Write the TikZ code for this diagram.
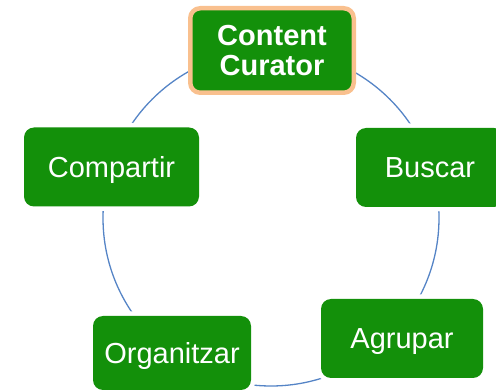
\documentclass[tikz,border=0pt]{standalone}
\usepackage{fontspec}
\setmainfont{Liberation Sans}
\definecolor{leaf}{HTML}{13900A}
\definecolor{peach}{HTML}{F9C08E}
\definecolor{ringblue}{HTML}{5584C6}

\begin{document}
\begin{tikzpicture}[x=1pt, y=-1pt,
  every node/.style={font=\fontsize{29}{30}\selectfont},
  stage/.style={rectangle, rounded corners=10pt, fill=leaf, text=white, inner sep=0pt},
  halo/.style={preaction={draw=white, line width=9pt}},
  plain/.style={stage, halo, text height=21pt, text depth=0pt},
  ring/.style={draw=ringblue, line width=1.3pt},
]

% page frame
\clip (0,0) rectangle (496,390);

% cycle ring behind the steps
\coordinate (hub) at (271,218);
\draw[ring] (hub) circle[radius=168];

% --- top: the curator ---
\node[stage, draw=peach, line width=4.5pt, minimum width=163.5pt, minimum height=84.5pt,
  align=center, font=\fontsize{29}{30}\selectfont\bfseries] (curator) at (272,50.5) {Content\\Curator};

% --- the four steps round the ring ---
\node[plain, minimum width=148pt, minimum height=79pt] (buscar) at (430,167.5) {Buscar};
\node[plain, minimum width=162pt, minimum height=79pt] (agrupar) at (402,338.5) {Agrupar};
\node[plain, minimum width=158pt, minimum height=74pt] (organitzar) at (172,353) {Organitzar};
\node[plain, minimum width=175pt, minimum height=79pt] (compartir) at (111.5,167) {Compartir};

\end{tikzpicture}
\end{document}
